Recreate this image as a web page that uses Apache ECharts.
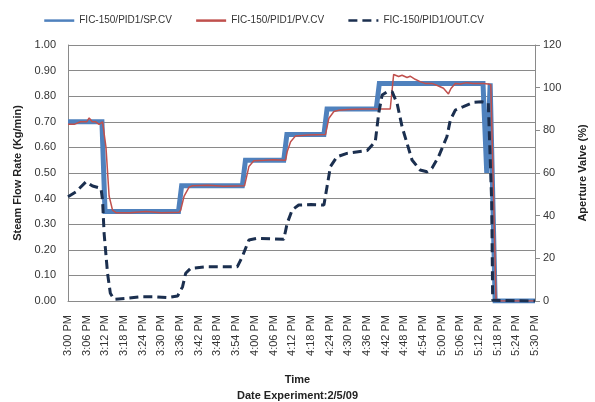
<!DOCTYPE html>
<html>
<head>
<meta charset="utf-8">
<script src="https://cdn.jsdelivr.net/npm/echarts@6/dist/echarts.min.js"></script>
<style>html,body{margin:0;padding:0;background:#fff}#c{width:595px;height:402px}</style>
</head>
<body>
<div id="c"></div>
<script>
// Tick labels for the time axis (every 6 minutes from 3:00 PM)
const timeLabels = ['3:00 PM','3:06 PM','3:12 PM','3:18 PM','3:24 PM','3:30 PM','3:36 PM','3:42 PM','3:48 PM','3:54 PM',
  '4:00 PM','4:06 PM','4:12 PM','4:18 PM','4:24 PM','4:30 PM','4:36 PM','4:42 PM','4:48 PM','4:54 PM',
  '5:00 PM','5:06 PM','5:12 PM','5:18 PM','5:24 PM','5:30 PM'];

const seriesNames = ['FIC-150/PID1/SP.CV', 'FIC-150/PID1/PV.CV', 'FIC-150/PID1/OUT.CV'];

// Minutes after 3:00 PM, and values
const spMinutes = [0, 10.9, 11.9, 35.5, 36.5, 56.0, 57.0, 69.3, 70.3, 82.2, 83.2, 99.0, 100.0, 133.3, 134.5, 135.6, 137.2, 150];
const spValues  = [0.70, 0.70, 0.35, 0.35, 0.45, 0.45, 0.55, 0.55, 0.65, 0.65, 0.75, 0.75, 0.85, 0.85, 0.50, 0.85, 0, 0];

const pvMinutes = [0, 2, 4, 6, 6.8, 7.8, 8.9, 10, 11.1, 12.2, 13.2, 14.3, 15.4, 20, 25, 30, 35.7,
  36.2, 37.3, 38.9, 40, 45, 50, 56.7, 57, 58.1, 59.7, 63, 66, 69.9, 70.4, 71.5, 73.1, 77, 82.7,
  83.8, 85.4, 87, 90, 95, 99.3, 103.5, 104.6, 106.2, 107.3, 108.9, 109.9, 111.5, 113.1, 114.7,
  116.9, 119, 120.6, 122.2, 123, 124.4, 126, 128.1, 130.2, 133.4, 135, 135.8, 137.5, 150];
const pvValues  = [0.69, 0.69, 0.70, 0.70, 0.715, 0.70, 0.70, 0.69, 0.70, 0.60, 0.41, 0.355, 0.345, 0.345, 0.35, 0.345, 0.347,
  0.355, 0.41, 0.445, 0.45, 0.452, 0.448, 0.45, 0.453, 0.525, 0.548, 0.55, 0.552, 0.55, 0.583, 0.622, 0.645, 0.648, 0.65,
  0.714, 0.74, 0.745, 0.748, 0.75, 0.75, 0.75, 0.885, 0.877, 0.882, 0.873, 0.878, 0.866, 0.857, 0.85,
  0.85, 0.84, 0.831, 0.809, 0.83, 0.85, 0.848, 0.853, 0.85, 0.85, 0.848, 0.845, 0, 0];

const outMinutes = [0, 2.6, 5.8, 7.9, 10.6, 11.1, 11.6, 12.7, 13.6, 14.8, 19.1, 23.4, 27.6, 32, 35.2, 36.8, 37.8, 39.4,
  45, 50, 54.4, 56, 58.1, 60.8, 65, 69.3, 70.4, 72, 74.1, 78, 82.2, 83.2, 84.3, 86.4, 89.6, 96.1, 98.7, 99.8,
  100.9, 102.5, 104.1, 105.7, 107.3, 108.9, 110.5, 113.1, 115.3, 116.9, 119, 121.7, 122.8, 124.4, 127, 130.2,
  132.9, 135, 136.1, 136.4, 150];
const outValues  = [48.9, 51.2, 55.9, 53.9, 52.8, 47.3, 31.7, 13, 3.6, 0.8, 1.3, 2.0, 2.0, 1.6, 2.3, 6.7, 13, 15.3,
  16.1, 16.0, 16.1, 20.8, 28.6, 29.4, 29.2, 28.9, 36.4, 42.7, 45, 45.2, 45, 53.6, 63, 67.6, 69.2, 70.5, 74.7, 88,
  96.6, 98.1, 98.1, 92.7, 81.7, 73.9, 66.1, 61.4, 60.6, 62.2, 67.6, 77, 84.8, 89.5, 91.1, 93.1,
  93.4, 92.7, 46, 0.3, 0];

const pairs = (xs, ys) => xs.map((x, i) => [x, ys[i]]);
const FONT = 'Liberation Sans, Arial, sans-serif';
const gridGray = '#8a8a8a';
const textColor = '#333';

const chart = echarts.init(document.getElementById('c'), null, {renderer: 'canvas'});
chart.setOption({
  animation: false,
  backgroundColor: '#fff',
  textStyle: {fontFamily: FONT},
  legend: {
    top: 10, left: 38, itemWidth: 30, itemHeight: 14, itemGap: 23,
    textStyle: {fontSize: 10, color: textColor, fontFamily: FONT},
    lineStyle: {width: 2.5},
    itemStyle: {opacity: 0, borderWidth: 0},
    data: seriesNames
  },
  grid: {left: 68, right: 60, top: 45, bottom: 101, containLabel: false, outerBoundsMode: 'none'},
  xAxis: {
    type: 'value', min: 0, max: 150, interval: 6,
    axisLine: {show: true, lineStyle: {color: gridGray}},
    axisTick: {show: false},
    splitLine: {show: false},
    axisLabel: {
      rotate: 90, margin: 14, fontSize: 11, color: textColor, fontFamily: FONT,
      formatter: v => timeLabels[Math.round(v / 6)] || ''
    }
  },
  yAxis: [{
    type: 'value', min: 0, max: 1, interval: 0.1,
    name: 'Steam Flow Rate (Kg/min)', nameLocation: 'middle', nameRotate: 90, nameGap: 45,
    nameTextStyle: {fontWeight: 'bold', fontSize: 11, color: '#222', fontFamily: FONT},
    axisLine: {show: true, lineStyle: {color: gridGray}},
    axisTick: {show: false},
    splitLine: {show: true, lineStyle: {color: gridGray, width: 1}},
    axisLabel: {fontSize: 11, color: textColor, margin: 12, fontFamily: FONT, formatter: v => v.toFixed(2)}
  }, {
    type: 'value', min: 0, max: 120, interval: 20, position: 'right',
    name: 'Aperture Valve (%)', nameLocation: 'middle', nameRotate: 90, nameGap: 42,
    nameTextStyle: {fontWeight: 'bold', fontSize: 11, color: '#222', fontFamily: FONT},
    axisLine: {show: true, lineStyle: {color: gridGray}},
    axisTick: {show: true, inside: false, length: 5, lineStyle: {color: gridGray}},
    splitLine: {show: false},
    axisLabel: {fontSize: 11, color: textColor, margin: 8, fontFamily: FONT}
  }],
  series: [{
    name: seriesNames[0], type: 'line', yAxisIndex: 0, symbol: 'none', z: 2,
    lineStyle: {width: 5, color: '#4F81BD', join: 'miter'}, itemStyle: {color: '#4F81BD'},
    data: pairs(spMinutes, spValues)
  }, {
    name: seriesNames[1], type: 'line', yAxisIndex: 0, symbol: 'none', z: 3,
    lineStyle: {width: 1.5, color: '#C0504D'}, itemStyle: {color: '#C0504D'},
    data: pairs(pvMinutes, pvValues)
  }, {
    name: seriesNames[2], type: 'line', yAxisIndex: 1, symbol: 'none', z: 4,
    lineStyle: {width: 3, color: '#1B2F4F', type: [9, 5]}, itemStyle: {color: '#1B2F4F'},
    data: pairs(outMinutes, outValues)
  }],
  graphic: [{
    type: 'text', left: 'center', top: 374,
    style: {text: 'Time', font: 'bold 11px ' + FONT, fill: '#222'}
  }, {
    type: 'text', left: 'center', top: 390,
    style: {text: 'Date Experiment:2/5/09', font: 'bold 11px ' + FONT, fill: '#222'}
  }]
});
</script>
</body>
</html>
